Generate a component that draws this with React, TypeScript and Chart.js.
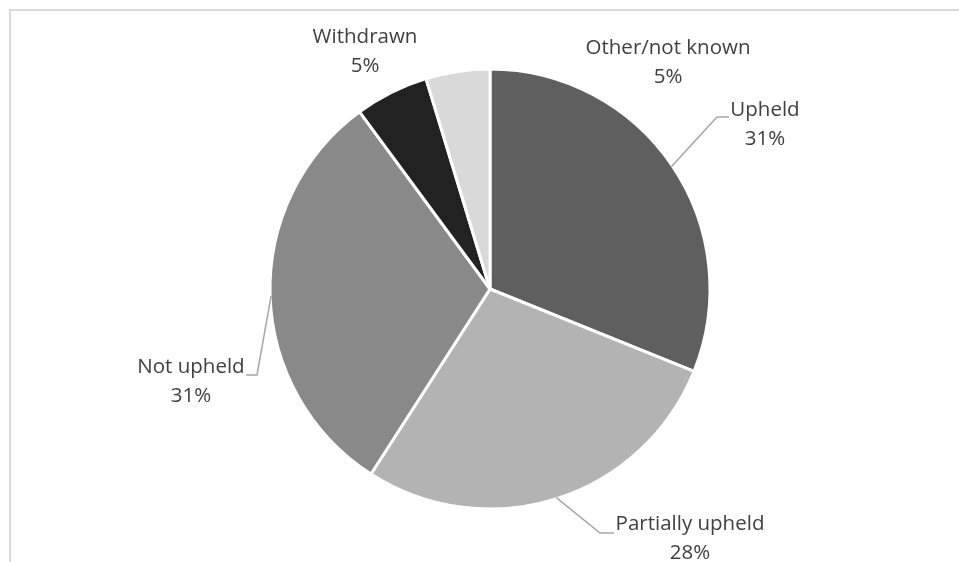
import React, { useEffect, useRef } from "react";
import { Chart, registerables } from "chart.js";

Chart.register(...registerables);

const categories = ["Upheld", "Partially upheld", "Not upheld", "Withdrawn", "Other/not known"];
const shares = [31.1, 28.0, 30.8, 5.4, 4.7];
const percentLabels = ["31%", "28%", "31%", "5%", "5%"];
const sliceColors = ["#5f5f5f", "#b3b3b3", "#898989", "#222222", "#d9d9d9"];

// label placement (text centre of first line) and leader elbow/end points
const labelLayout = [
  { x: 765, y: 110, leader: [[717, 117], [729, 117]] },
  { x: 690, y: 524, leader: [[600, 533], [614, 533]] },
  { x: 191, y: 367, leader: [[257, 375], [246, 375]] },
  { x: 365, y: 37, leader: null },
  { x: 668, y: 48, leader: null },
];

const LINE_GAP = 29;

const labelPlugin = {
  id: "pieLabels",
  beforeDraw(chart: any) {
    const ctx = chart.ctx;
    ctx.save();
    ctx.strokeStyle = "#d9d9d9";
    ctx.lineWidth = 2;
    ctx.beginPath();
    ctx.moveTo(10, 562);
    ctx.lineTo(10, 10);
    ctx.lineTo(959, 10);
    ctx.stroke();
    ctx.restore();
  },
  afterDraw(chart: any) {
    const ctx = chart.ctx;
    const meta = chart.getDatasetMeta(0);
    ctx.save();
    meta.data.forEach((arc: any, i: number) => {
      const p = arc.getProps(["x", "y", "startAngle", "endAngle", "outerRadius"], true);
      const mid = (p.startAngle + p.endAngle) / 2;
      const lay = labelLayout[i];
      if (lay.leader) {
        const sx = p.x + Math.cos(mid) * (p.outerRadius - 1);
        const sy = p.y + Math.sin(mid) * (p.outerRadius - 1);
        ctx.strokeStyle = "#a6a6a6";
        ctx.lineWidth = 1.5;
        ctx.beginPath();
        ctx.moveTo(sx, sy);
        lay.leader.forEach((pt) => ctx.lineTo(pt[0], pt[1]));
        ctx.stroke();
      }
      ctx.fillStyle = "#404040";
      ctx.font = "20.5px 'Open Sans'";
      ctx.textAlign = "center";
      ctx.textBaseline = "middle";
      ctx.fillText(categories[i], lay.x, lay.y);
      ctx.fillText(percentLabels[i], lay.x, lay.y + LINE_GAP);
    });
    ctx.restore();
  },
};

export default function App() {
  const ref = useRef<HTMLCanvasElement | null>(null);
  useEffect(() => {
    if (!ref.current) return;
    const chart = new Chart(ref.current, {
      type: "pie",
      data: {
        labels: categories,
        datasets: [
          {
            data: shares,
            backgroundColor: sliceColors,
            borderColor: "#ffffff",
            borderWidth: 3,
            radius: 220,
          } as any,
        ],
      },
      options: {
        responsive: false,
        animation: false,
        layout: { padding: { left: 41, right: 20, top: 36, bottom: 20 } },
        plugins: {
          legend: { display: false },
          tooltip: { enabled: false },
        },
      },
      plugins: [labelPlugin],
    });
    return () => chart.destroy();
  }, []);
  return (
    <div style={{ position: "absolute", left: 0, top: 0, width: 959, height: 562, background: "#fff" }}>
      <canvas ref={ref} width={959} height={562} />
    </div>
  );
}
